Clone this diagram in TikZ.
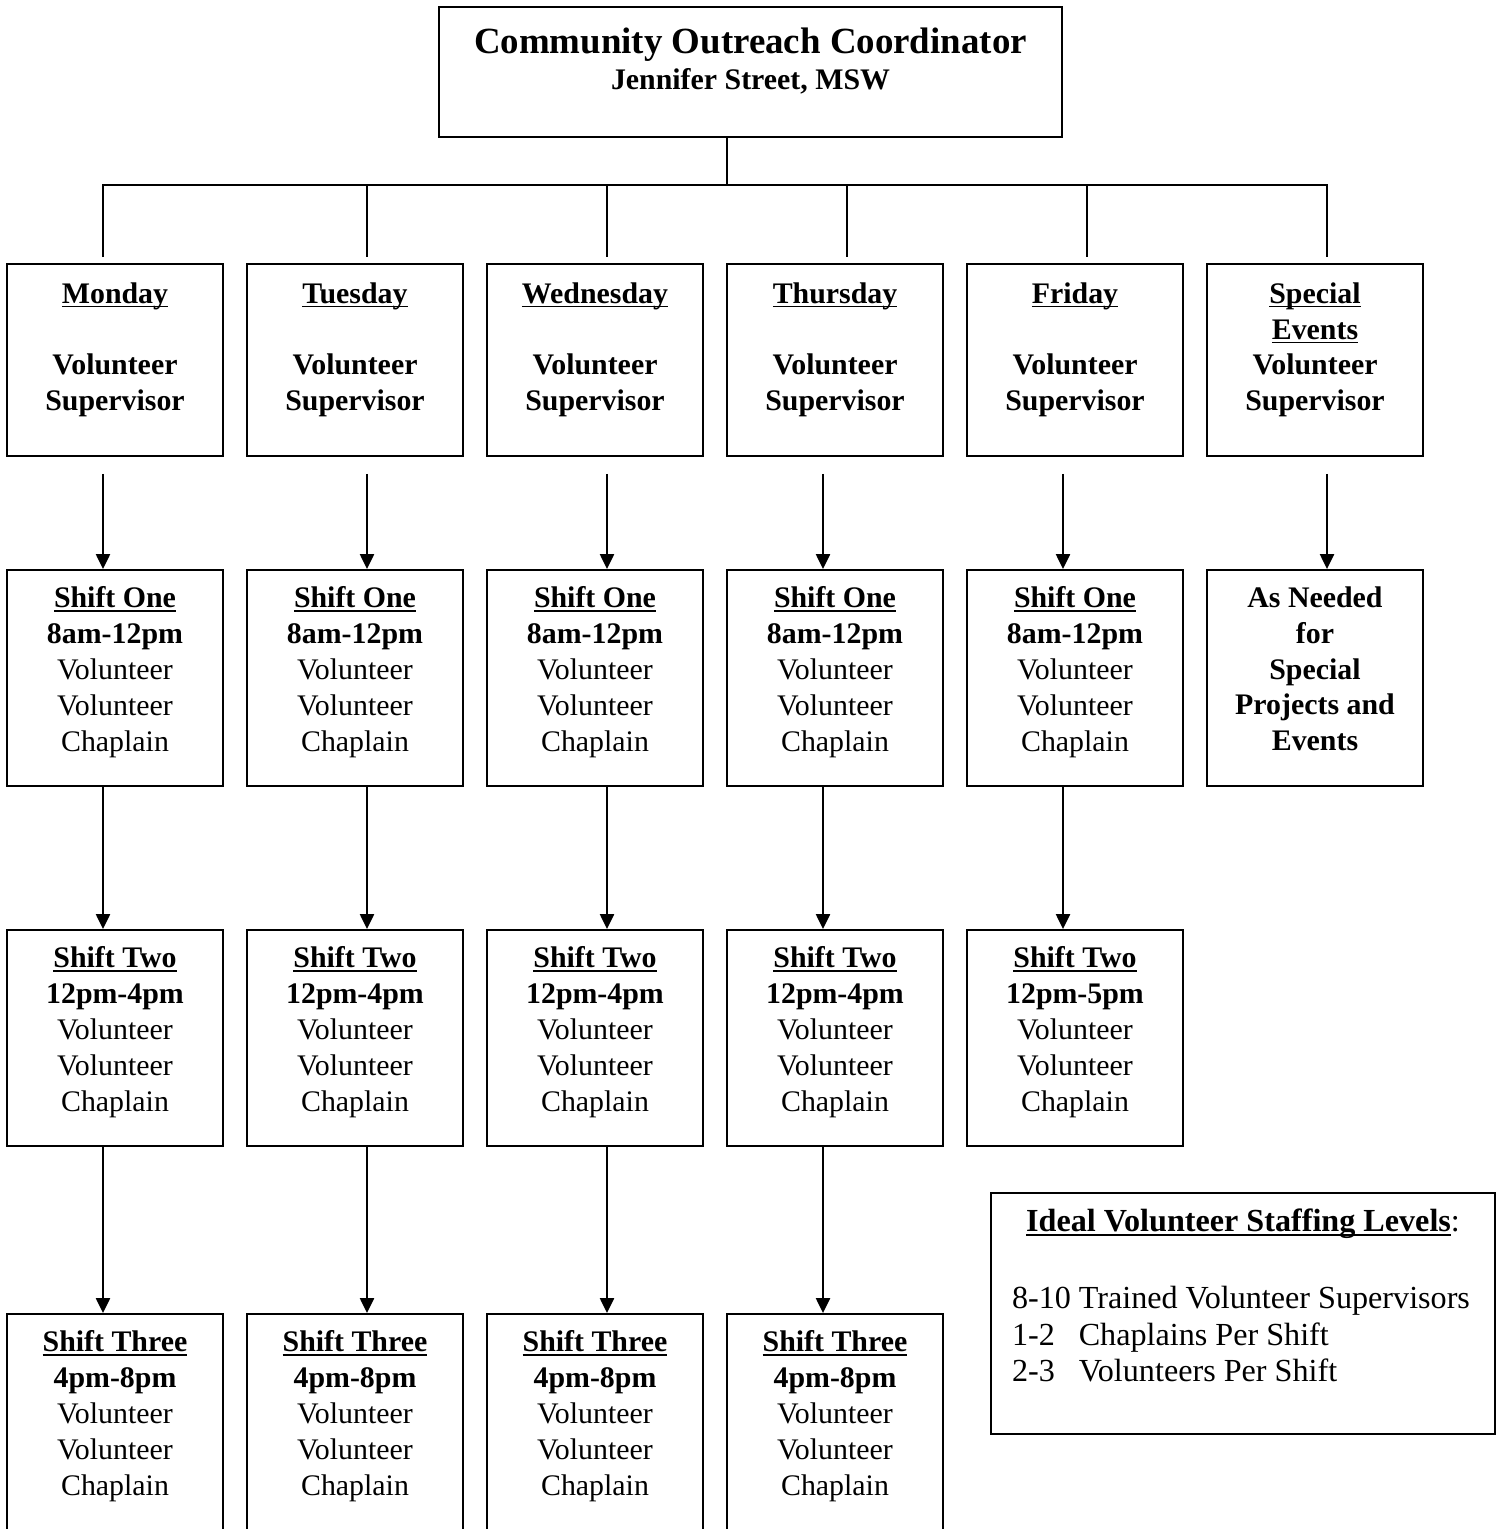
\documentclass[tikz,border=0pt]{standalone}
\usepackage{fontspec}
\setmainfont{Liberation Serif}
\usetikzlibrary{arrows.meta}

\newcommand{\dayline}[1]{\leavevmode\sbox0{#1}\rlap{\rule[-2.3pt]{\wd0}{0.9pt}}\usebox0}
\newcommand{\daycell}[2]{\parbox[c][3.84cm][t]{4.32cm}{\centering\bfseries\vspace*{10.5pt}#1\\[#2]Volunteer\\Supervisor}}
\newcommand{\shiftcell}[3]{\parbox[c][#1][t]{4.32cm}{\centering\vspace*{9.5pt}\textbf{\dayline{#2}}\\\textbf{#3}\\Volunteer\\Volunteer\\Chaplain}}

\begin{document}
\begin{tikzpicture}[x=0.02cm,y=-0.02cm,
    box/.style={draw,line width=1.1pt,inner sep=0pt,font=\fontsize{17}{20.4}\selectfont},
    link/.style={line width=1.1pt},
    flow/.style={link,-{Triangle[width=8pt,length=8.5pt]}}]
    \useasboundingbox (0,0) rectangle (1502,1529);
    \clip (0,0) rectangle (1502,1529);

    \node[box] (ceo) at (750.5,72) {\parbox[c][2.6cm][t]{12.46cm}{\centering\bfseries\vspace*{12pt}%
        {\fontsize{21}{25}\selectfont Community Outreach Coordinator\par}Jennifer Street, MSW}};

    % supervisors
    \node[box] (mon1) at (115,360) {\daycell{\dayline{Monday}}{\baselineskip}};
    \node[box] (tue1) at (355,360) {\daycell{\dayline{Tuesday}}{\baselineskip}};
    \node[box] (wed1) at (595,360) {\daycell{\dayline{Wednesday}}{\baselineskip}};
    \node[box] (thu1) at (835,360) {\daycell{\dayline{Thursday}}{\baselineskip}};
    \node[box] (fri1) at (1075,360) {\daycell{\dayline{Friday}}{\baselineskip}};
    \node[box] (spe1) at (1315,360) {\daycell{\dayline{Special}\\\dayline{Events}}{0pt}};

    % shifts
    \foreach \d/\x in {mon/115,tue/355,wed/595,thu/835,fri/1075} {
        \node[box] (\d2) at (\x,678) {\shiftcell{4.32cm}{Shift One}{8am-12pm}}; }
    \node[box] (spe2) at (1315,678) {\parbox[c][4.32cm][t]{4.32cm}{\centering\bfseries\vspace*{9.5pt}%
        As Needed\\for\\Special\\Projects and\\Events}};

    \foreach \d/\x/\t in {mon/115/4,tue/355/4,wed/595/4,thu/835/4,fri/1075/5} {
        \node[box] (\d3) at (\x,1038) {\shiftcell{4.32cm}{Shift Two}{12pm-\t pm}}; }

    \foreach \d/\x in {mon/115,tue/355,wed/595,thu/835} {
        \node[box] (\d4) at (\x,1424) {\shiftcell{4.4cm}{Shift Three}{4pm-8pm}}; }

    % staffing levels
    \node[box,font=\fontsize{18.3}{20.9}\selectfont] (staff) at (1243,1313.5) {\parbox[c][4.82cm][t]{10.08cm}{\vspace*{9pt}%
        {\centering\textbf{\dayline{Ideal Volunteer Staffing Levels}}:\par}
        \vspace{\dimexpr\baselineskip+2pt\relax}
        \hspace*{0.42cm}\makebox[38pt][l]{8-10}Trained Volunteer Supervisors\\
        \hspace*{0.42cm}\makebox[38pt][l]{1-2}Chaplains Per Shift\\
        \hspace*{0.42cm}\makebox[38pt][l]{2-3}Volunteers Per Shift}};

    % bus
    \coordinate (hub) at (727,186);
    \draw[link] (ceo.south -| hub) -- (hub);
    \draw[link] ([xshift=-0.24cm,yshift=0.12cm]mon1.north) -- ++(0,-72) -| ([xshift=0.24cm,yshift=0.12cm]spe1.north);
    \foreach \d in {tue,wed,thu,fri} {
        \draw[link] ([xshift=0.24cm,yshift=1.56cm]\d1.north) -- ([xshift=0.24cm,yshift=0.12cm]\d1.north); }

    % arrows
    \foreach \d/\a in {mon/-12,tue/12,wed/12,thu/-12,fri/-12,spe/12} {
        \draw[flow] ([xshift=\a*0.02cm,yshift=-0.34cm]\d1.south) -- ([xshift=\a*0.02cm]\d2.north); }
    \foreach \d/\a in {mon/-12,tue/12,wed/12,thu/-12,fri/-12} {
        \draw[flow] ([xshift=\a*0.02cm]\d2.south) -- ([xshift=\a*0.02cm]\d3.north); }
    \foreach \d/\a in {mon/-12,tue/12,wed/12,thu/-12} {
        \draw[flow] ([xshift=\a*0.02cm]\d3.south) -- ([xshift=\a*0.02cm]\d4.north); }
\end{tikzpicture}
\end{document}
